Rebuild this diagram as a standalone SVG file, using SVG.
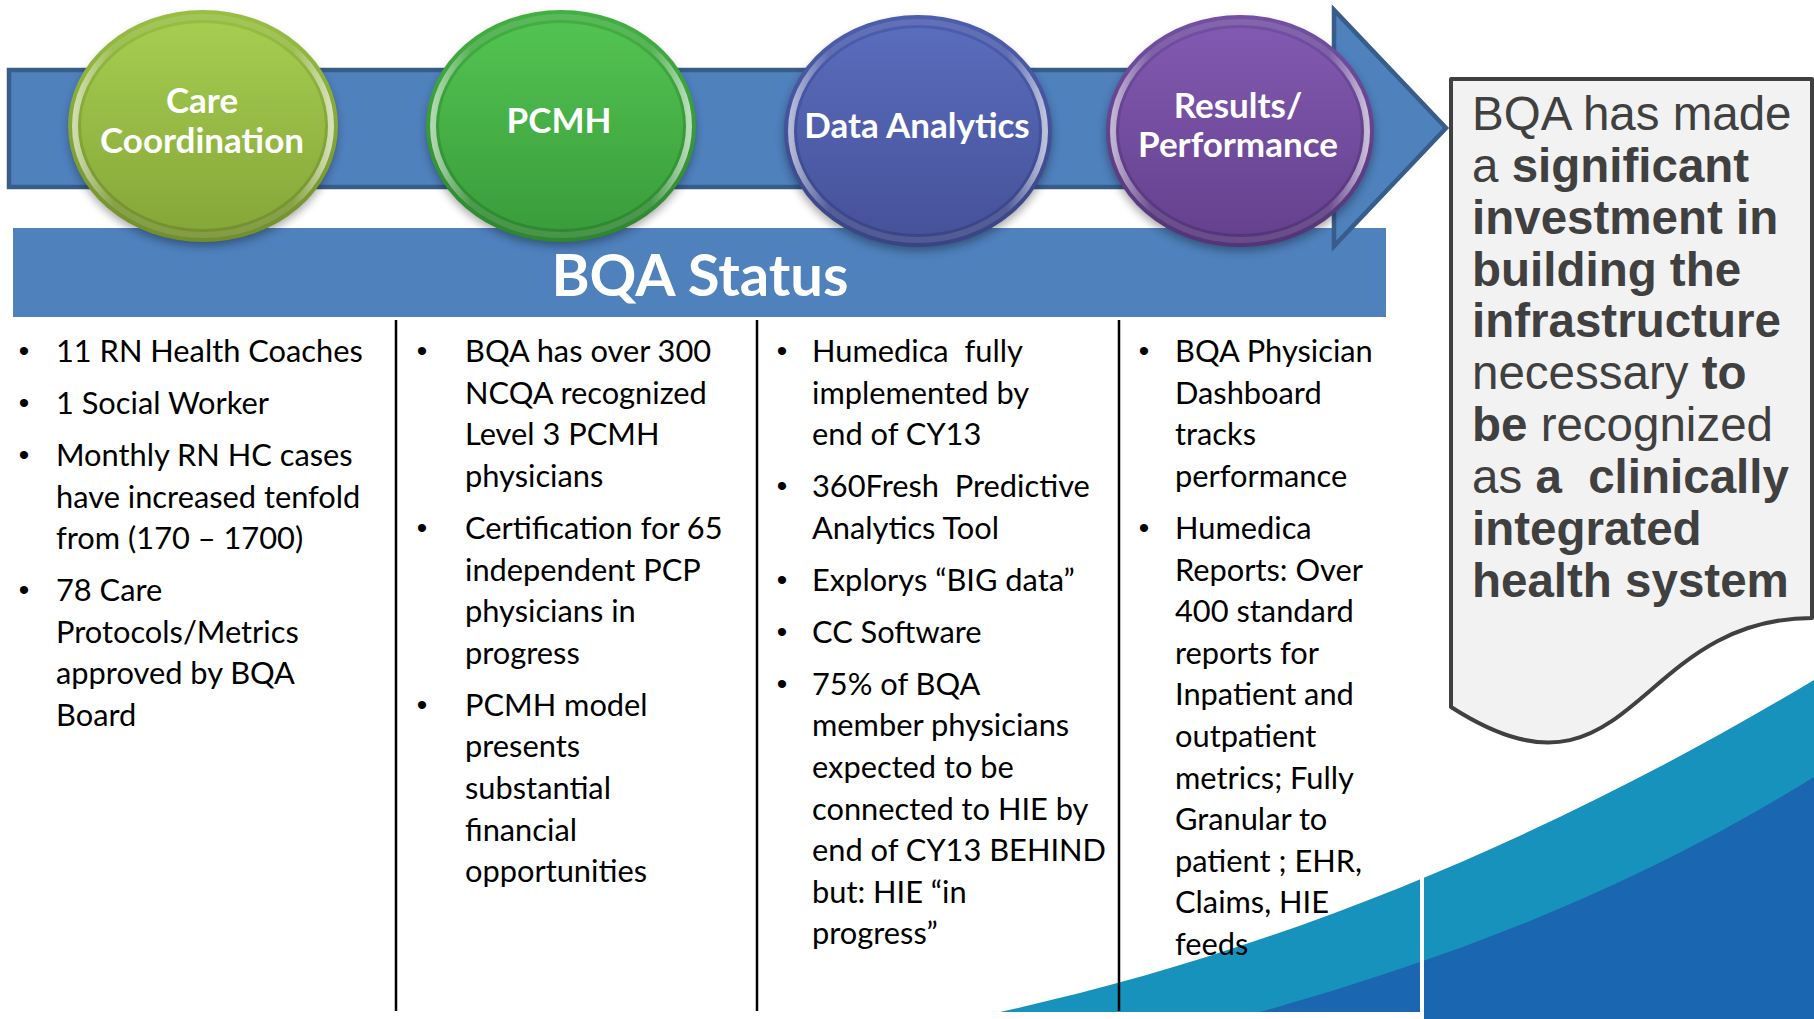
<svg xmlns="http://www.w3.org/2000/svg" width="1814" height="1019" viewBox="0 0 1814 1019">
  <style>
    .body { font-family: Lato, "Open Sans", sans-serif; font-size: 30.8px; fill: #000; white-space: pre; }
    .bul { font-family: "Liberation Sans", Arial, sans-serif; font-size: 30px; fill: #000; text-anchor: middle; }
    .lbl { font-family: Lato, "Open Sans", sans-serif; font-weight: 700; font-size: 35px; fill: #fff; text-anchor: middle; }
    .status { font-family: Lato, "Open Sans", sans-serif; font-weight: 700; font-size: 58px; fill: #fff; text-anchor: middle; }
    .note { font-family: "Liberation Sans", Arial, sans-serif; font-size: 47.5px; fill: #404040; white-space: pre; }
    .note .b { font-weight: 700; }
    .divider { stroke: #000; stroke-width: 2.5; }
  </style>
  <defs>
    <filter id="soft" x="-20%" y="-20%" width="140%" height="140%">
      <feGaussianBlur stdDeviation="5"/>
    </filter>
    <!-- bevel highlight shared by all discs: bright on the flanks, faint top and bottom -->
    <linearGradient id="rim" x1="0" y1="0" x2="1" y2="0">
      <stop offset="0" stop-color="#fff" stop-opacity="0.6"/>
      <stop offset="0.15" stop-color="#fff" stop-opacity="0.12"/>
      <stop offset="0.85" stop-color="#fff" stop-opacity="0.12"/>
      <stop offset="1" stop-color="#fff" stop-opacity="0.65"/>
    </linearGradient>
    <linearGradient id="green-base" x1="0" y1="0" x2="0" y2="1">
      <stop offset="0" stop-color="#98BF42"/><stop offset="1" stop-color="#718E2C"/>
    </linearGradient>
    <linearGradient id="green-fill" x1="0" y1="0" x2="0" y2="1">
      <stop offset="0" stop-color="#A6CD50"/><stop offset="1" stop-color="#86A739"/>
    </linearGradient>
    <linearGradient id="leaf-base" x1="0" y1="0" x2="0" y2="1">
      <stop offset="0" stop-color="#43B043"/><stop offset="1" stop-color="#2E8630"/>
    </linearGradient>
    <linearGradient id="leaf-fill" x1="0" y1="0" x2="0" y2="1">
      <stop offset="0" stop-color="#52C352"/><stop offset="1" stop-color="#3A9D3B"/>
    </linearGradient>
    <linearGradient id="blue-base" x1="0" y1="0" x2="0" y2="1">
      <stop offset="0" stop-color="#4D5EAF"/><stop offset="1" stop-color="#394484"/>
    </linearGradient>
    <linearGradient id="blue-fill" x1="0" y1="0" x2="0" y2="1">
      <stop offset="0" stop-color="#5A6CBD"/><stop offset="1" stop-color="#46529A"/>
    </linearGradient>
    <linearGradient id="violet-base" x1="0" y1="0" x2="0" y2="1">
      <stop offset="0" stop-color="#7350A3"/><stop offset="1" stop-color="#543478"/>
    </linearGradient>
    <linearGradient id="violet-fill" x1="0" y1="0" x2="0" y2="1">
      <stop offset="0" stop-color="#8259B0"/><stop offset="1" stop-color="#65418F"/>
    </linearGradient>
  </defs>

  <rect width="1814" height="1019" fill="#fff"/>

  <!-- rising waves, bottom right -->
  <g id="waves">
    <path d="M1000,1012 C1270,953 1544,842 1814,680 V1019 H1000 Z" fill="#1792BD"/>
    <path d="M1260,1012 C1445,960 1629,892 1814,777 V1019 H1260 Z" fill="#1B66B0"/>
    <rect x="0" y="1012" width="1421" height="7" fill="#fff"/>
    <rect x="1420" y="860" width="4" height="159" fill="#fff"/>
  </g>

  <!-- status banner -->
  <g id="status-bar">
    <rect x="13" y="228" width="1373" height="89" fill="#4F81BD"/>
  </g>

  <!-- flow arrow running behind the four discs -->
  <g id="connectors">
    <path d="M9,70 H1334 V10 L1446,128 L1334,246 V187 H9 Z" fill="#4F81BD" stroke="#385D8A" stroke-width="4.5" stroke-linejoin="miter"/>
  </g>

  <g id="status-label">
    <text class="status" x="700" y="296">BQA Status</text>
  </g>

  <!-- discs -->
  <g id="node-care-coordination">
    <ellipse cx="203" cy="131" rx="134" ry="115" fill="#000" opacity="0.35" filter="url(#soft)"/>
    <ellipse cx="203" cy="126" rx="135" ry="116" fill="url(#green-base)"/>
    <ellipse cx="203" cy="126" rx="128" ry="109" fill="none" stroke="url(#rim)" stroke-width="6"/>
    <ellipse cx="203" cy="126" rx="122" ry="103" fill="url(#green-fill)"/>
    <text class="lbl" x="202" y="113">Care</text>
    <text class="lbl" x="202" y="153">Coordination</text>
  </g>
  <g id="node-pcmh">
    <ellipse cx="561" cy="131" rx="134" ry="115" fill="#000" opacity="0.35" filter="url(#soft)"/>
    <ellipse cx="561" cy="126" rx="135" ry="116" fill="url(#leaf-base)"/>
    <ellipse cx="561" cy="126" rx="128" ry="109" fill="none" stroke="url(#rim)" stroke-width="6"/>
    <ellipse cx="561" cy="126" rx="122" ry="103" fill="url(#leaf-fill)"/>
    <text class="lbl" x="559" y="133">PCMH</text>
  </g>
  <g id="node-data-analytics">
    <ellipse cx="918" cy="136" rx="134" ry="115" fill="#000" opacity="0.35" filter="url(#soft)"/>
    <ellipse cx="918" cy="131" rx="134" ry="116" fill="url(#blue-base)"/>
    <ellipse cx="918" cy="131" rx="127" ry="109" fill="none" stroke="url(#rim)" stroke-width="6"/>
    <ellipse cx="918" cy="131" rx="121" ry="103" fill="url(#blue-fill)"/>
    <text class="lbl" x="917" y="138">Data Analytics</text>
  </g>
  <g id="node-results-performance">
    <ellipse cx="1240" cy="136" rx="134" ry="115" fill="#000" opacity="0.35" filter="url(#soft)"/>
    <ellipse cx="1240" cy="131" rx="134" ry="116" fill="url(#violet-base)"/>
    <ellipse cx="1240" cy="131" rx="127" ry="109" fill="none" stroke="url(#rim)" stroke-width="6"/>
    <ellipse cx="1240" cy="131" rx="121" ry="103" fill="url(#violet-fill)"/>
    <text class="lbl" x="1238" y="118">Results/</text>
    <text class="lbl" x="1238" y="157">Performance</text>
  </g>

  <!-- column rules -->
  <g id="dividers">
    <line class="divider" x1="396" y1="320" x2="396" y2="1011"/>
    <line class="divider" x1="757" y1="320" x2="757" y2="1011"/>
    <line class="divider" x1="1119" y1="320" x2="1119" y2="1011"/>
  </g>

  <!-- column 1 -->
  <g id="col-care-coordination">
    <text class="bul"><tspan x="24" y="361">•</tspan><tspan x="24" y="413">•</tspan><tspan x="24" y="465">•</tspan><tspan x="24" y="600">•</tspan></text>
    <text class="body">
      <tspan x="56" y="362">11 RN Health Coaches</tspan>
      <tspan x="56" y="414">1 Social Worker</tspan>
      <tspan x="56" y="466">Monthly RN HC cases</tspan>
      <tspan x="56" y="507.6">have increased tenfold</tspan>
      <tspan x="56" y="549">from (170 – 1700)</tspan>
      <tspan x="56" y="601">78 Care</tspan>
      <tspan x="56" y="643">Protocols/Metrics</tspan>
      <tspan x="56" y="684">approved by BQA</tspan>
      <tspan x="56" y="726">Board</tspan>
    </text>
  </g>

  <!-- column 2 -->
  <g id="col-pcmh">
    <text class="bul"><tspan x="422" y="361">•</tspan><tspan x="422" y="538">•</tspan><tspan x="422" y="715">•</tspan></text>
    <text class="body">
      <tspan x="465" y="362">BQA has over 300</tspan>
      <tspan x="465" y="404">NCQA recognized</tspan>
      <tspan x="465" y="445">Level 3 PCMH</tspan>
      <tspan x="465" y="487">physicians</tspan>
      <tspan x="465" y="539">Certification for 65</tspan>
      <tspan x="465" y="581">independent PCP</tspan>
      <tspan x="465" y="622">physicians in</tspan>
      <tspan x="465" y="664">progress</tspan>
      <tspan x="465" y="716">PCMH model</tspan>
      <tspan x="465" y="757">presents</tspan>
      <tspan x="465" y="799">substantial</tspan>
      <tspan x="465" y="841">financial</tspan>
      <tspan x="465" y="882">opportunities</tspan>
    </text>
  </g>

  <!-- column 3 -->
  <g id="col-data-analytics">
    <text class="bul"><tspan x="782" y="361">•</tspan><tspan x="782" y="496">•</tspan><tspan x="782" y="590">•</tspan><tspan x="782" y="642">•</tspan><tspan x="782" y="694">•</tspan></text>
    <text class="body">
      <tspan x="812" y="362">Humedica  fully</tspan>
      <tspan x="812" y="404">implemented by</tspan>
      <tspan x="812" y="445">end of CY13</tspan>
      <tspan x="812" y="497">360Fresh  Predictive</tspan>
      <tspan x="812" y="539">Analytics Tool</tspan>
      <tspan x="812" y="591">Explorys “BIG data”</tspan>
      <tspan x="812" y="643">CC Software</tspan>
      <tspan x="812" y="695">75% of BQA</tspan>
      <tspan x="812" y="736">member physicians</tspan>
      <tspan x="812" y="778">expected to be</tspan>
      <tspan x="812" y="820">connected to HIE by</tspan>
      <tspan x="812" y="861">end of CY13 BEHIND</tspan>
      <tspan x="812" y="903">but: HIE “in</tspan>
      <tspan x="812" y="944">progress”</tspan>
    </text>
  </g>

  <!-- column 4 -->
  <g id="col-results-performance">
    <text class="bul"><tspan x="1144" y="361">•</tspan><tspan x="1144" y="538">•</tspan></text>
    <text class="body">
      <tspan x="1175" y="362">BQA Physician</tspan>
      <tspan x="1175" y="404">Dashboard</tspan>
      <tspan x="1175" y="445">tracks</tspan>
      <tspan x="1175" y="487">performance</tspan>
      <tspan x="1175" y="539">Humedica</tspan>
      <tspan x="1175" y="581">Reports: Over</tspan>
      <tspan x="1175" y="622">400 standard</tspan>
      <tspan x="1175" y="664">reports for</tspan>
      <tspan x="1175" y="705">Inpatient and</tspan>
      <tspan x="1175" y="747">outpatient</tspan>
      <tspan x="1175" y="789">metrics; Fully</tspan>
      <tspan x="1175" y="830">Granular to</tspan>
      <tspan x="1175" y="872">patient ; EHR,</tspan>
      <tspan x="1175" y="913">Claims, HIE</tspan>
      <tspan x="1175" y="955">feeds</tspan>
    </text>
  </g>

  <!-- document-shaped callout -->
  <g id="callout">
    <path d="M1451,79 H1812 V618 C1632,618 1632,823 1451,707 Z" fill="#F2F2F2" stroke="#404040" stroke-width="4" stroke-linejoin="round"/>
    <text class="note">
      <tspan x="1472" y="130">BQA has made</tspan>
      <tspan x="1472" y="182">a <tspan class="b">significant</tspan></tspan>
      <tspan x="1472" y="234" class="b">investment in</tspan>
      <tspan x="1472" y="286" class="b">building the</tspan>
      <tspan x="1472" y="337" class="b">infrastructure</tspan>
      <tspan x="1472" y="389">necessary <tspan class="b">to</tspan></tspan>
      <tspan x="1472" y="441"><tspan class="b">be</tspan> recognized</tspan>
      <tspan x="1472" y="493">as <tspan class="b">a  clinically</tspan></tspan>
      <tspan x="1472" y="545" class="b">integrated</tspan>
      <tspan x="1472" y="597" class="b">health system</tspan>
    </text>
  </g>
</svg>
